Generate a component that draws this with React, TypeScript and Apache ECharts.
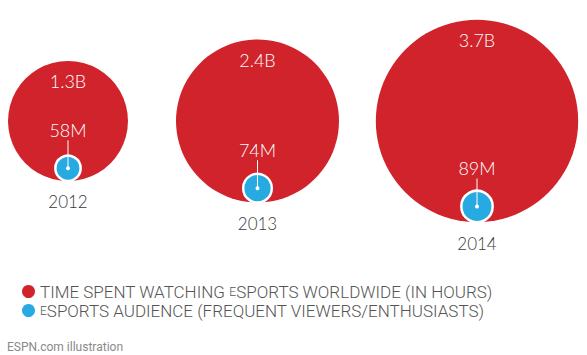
import React, { useEffect, useRef } from "react";
import * as echarts from "echarts";

// ---- data ----
const years = ["2012", "2013", "2014"];
const hoursBillions = [1.3, 2.4, 3.7]; // time spent watching eSports (billions of hours)
const audienceMillions = [58, 74, 89]; // eSports audience (millions)

const seriesNames = [
  "TIME SPENT WATCHING ESPORTS WORLDWIDE (IN HOURS)",
  "ESPORTS AUDIENCE (FREQUENT VIEWERS/ENTHUSIASTS)",
];

// ---- layout / style constants ----
const RED = "#D0232B";
const BLUE = "#27A9E1";
const PX_PER_SQRT_B = 52.6; // radius in px per sqrt(billion)
const COLUMN_NUDGE = [0, -15, 0];
const FONT = "Lato, 'Open Sans', sans-serif";
const LEGEND_FONT = "Roboto, sans-serif";

export default function App() {
  const ref = useRef<HTMLDivElement>(null);
  useEffect(() => {
    if (!ref.current) return;
    const chart = echarts.init(ref.current, null, { renderer: "svg" });

    const radiusOf = (billions: number) => PX_PER_SQRT_B * Math.sqrt(billions);

    const option: any = {
      animation: false,
      backgroundColor: "#fff",
      title: {
        text: "ESPN.com illustration",
        left: 2,
        top: 336,
        textStyle: { fontSize: 12, fontWeight: "normal", color: "#8a8a8a", fontFamily: "Roboto" },
      },
      legend: {
        orient: "vertical",
        left: 17,
        top: 278,
        icon: "circle",
        itemWidth: 13,
        itemHeight: 13,
        itemGap: 2,
        data: seriesNames,
        formatter: (name: string) =>
          name === seriesNames[0]
            ? "{n|TIME SPENT WATCHING }{s|E}{n|SPORTS WORLDWIDE (IN HOURS)}"
            : "{s|E}{n|SPORTS AUDIENCE (FREQUENT VIEWERS/ENTHUSIASTS)}",
        textStyle: {
          color: "#555",
          fontFamily: LEGEND_FONT,
          rich: {
            n: { fontSize: 17, fontWeight: 300, color: "#555", fontFamily: LEGEND_FONT, lineHeight: 17 },
            s: { fontSize: 12, fontWeight: 300, color: "#555", fontFamily: LEGEND_FONT, lineHeight: 17 },
          },
        },
      },
      grid: { left: 68, right: 110, top: 21, bottom: 134 },
      xAxis: { type: "category", data: years, boundaryGap: false, show: false },
      yAxis: { type: "value", min: 0, max: 1, show: false },
      series: [
        {
          type: "custom",
          name: seriesNames[0],
          itemStyle: { color: RED },
          data: years.map((_, i) => [i, hoursBillions[i]]),
          renderItem: (params: any, api: any) => {
            const idx = params.dataIndex;
            const pt = api.coord([api.value(0), 0.5]);
            const cx = pt[0] + COLUMN_NUDGE[idx];
            const cy = pt[1];
            const R = radiusOf(api.value(1));
            return {
              type: "group",
              children: [
                { type: "circle", shape: { cx, cy, r: R }, style: { fill: RED } },
                {
                  type: "text",
                  x: cx,
                  y: cy - R + 20,
                  style: {
                    text: api.value(1) + "B",
                    fill: "#fff",
                    fontSize: 18,
                    fontWeight: 300,
                    fontFamily: FONT,
                    align: "center",
                    verticalAlign: "middle",
                  },
                },
                {
                  type: "text",
                  x: cx,
                  y: cy + R + 21,
                  style: {
                    text: years[idx],
                    fill: "#3a3a3a",
                    fontSize: 17,
                    fontWeight: 300,
                    fontFamily: FONT,
                    align: "center",
                    verticalAlign: "middle",
                  },
                },
              ],
            };
          },
        },
        {
          type: "custom",
          name: seriesNames[1],
          itemStyle: { color: BLUE },
          data: years.map((_, i) => [i, audienceMillions[i], hoursBillions[i]]),
          renderItem: (params: any, api: any) => {
            const idx = params.dataIndex;
            const pt = api.coord([api.value(0), 0.5]);
            const cx = pt[0] + COLUMN_NUDGE[idx];
            const cy = pt[1];
            const R = radiusOf(api.value(2));
            const rb = radiusOf(api.value(1) / 1000);
            const by = cy + R - rb;
            const ly = by - 38;
            return {
              type: "group",
              children: [
                {
                  type: "circle",
                  shape: { cx, cy: by, r: rb },
                  style: { fill: BLUE, stroke: "#fff", lineWidth: 2.5 },
                },
                {
                  type: "line",
                  shape: { x1: cx, y1: ly + 10, x2: cx, y2: by },
                  style: { stroke: "#fff", lineWidth: 1 },
                },
                { type: "circle", shape: { cx, cy: by, r: 2 }, style: { fill: "#fff" } },
                {
                  type: "text",
                  x: cx,
                  y: ly,
                  style: {
                    text: api.value(1) + "M",
                    fill: "#fff",
                    fontSize: 18,
                    fontWeight: 300,
                    fontFamily: FONT,
                    align: "center",
                    verticalAlign: "middle",
                  },
                },
              ],
            };
          },
        },
      ],
    };

    chart.setOption(option);
    return () => chart.dispose();
  }, []);

  return (
    <div
      ref={ref}
      style={{ position: "fixed", left: 0, top: 0, width: 587, height: 355 }}
    />
  );
}
